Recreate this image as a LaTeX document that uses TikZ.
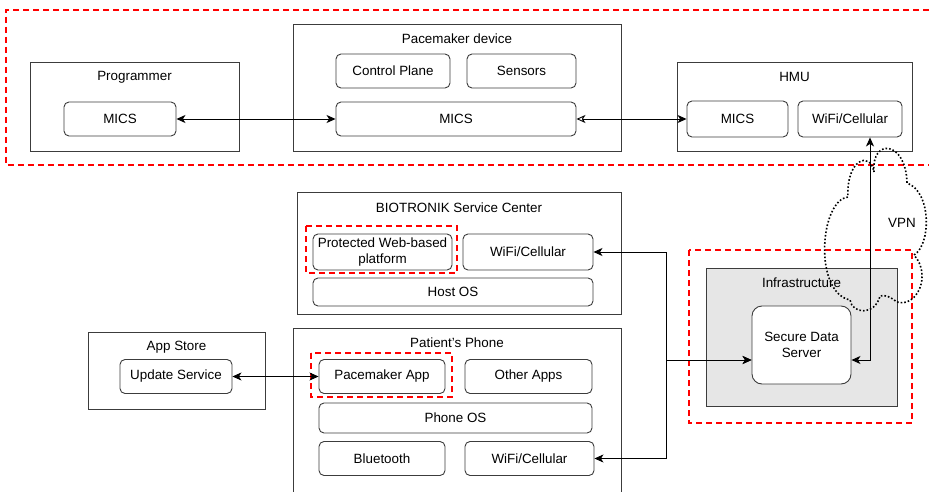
\documentclass[tikz,border=0pt]{standalone}
\usepackage{fontspec}
\setmainfont{Liberation Sans}
\usetikzlibrary{arrows.meta}
\definecolor{edge}{HTML}{3C3C3C}
\definecolor{infra}{HTML}{E6E6E6}
\tikzset{
  every node/.style={font=\fontsize{13.4}{15.5}\selectfont, inner sep=0pt},
  ibox/.style={draw=edge, line width=0.9pt, rounded corners=5pt, fill=white, align=center},
  cbox/.style={draw=edge, line width=0.9pt},
  reddash/.style={draw=red, line width=1.6pt, dash pattern=on 6pt off 4pt},
  conn/.style={draw=black, line width=0.9pt},
  tip/.tip={Stealth[length=9pt,width=8pt,inset=2.5pt]},
  otip/.tip={Stealth[length=9pt,width=8pt,inset=2.5pt,open]},
}
\begin{document}
\begin{tikzpicture}[x=1pt,y=-1pt]
\useasboundingbox (0,0) rectangle (929,492);

% top red dashed region
\draw[reddash] (929,10) -- (6,10) -- (6,165) -- (929,165);

% containers
\draw[cbox] (30,62) rectangle (239,151);
\node (tprog) at (134.5,77) {Programmer};
\draw[cbox] (293,24) rectangle (621,151);
\node (tpace) at (457,39) {Pacemaker device};
\draw[cbox] (677,62) rectangle (912,151);
\node (thmu) at (794.5,77) {HMU};
\draw[cbox] (297,192) rectangle (621,314);
\node (tbio) at (459,208) {BIOTRONIK Service Center};
\draw[cbox] (88,332) rectangle (265,409);
\node (tapp) at (176.5,347) {App Store};
\draw[cbox] (293,328) -- (293,493) (293,328) -- (621,328) -- (621,493);
\node (tphone) at (457,343) {Patient's Phone};
\draw[cbox, fill=infra] (706,268) rectangle (897,406);
\node (tinfra) at (801.5,283) {Infrastructure};

% inner boxes
\node[ibox, minimum width=112pt, minimum height=34pt] (progmics) at (120,119) {MICS};
\node[ibox, minimum width=114pt, minimum height=34pt] (ctrl) at (393,71) {Control Plane};
\node[ibox, minimum width=109pt, minimum height=34pt] (sens) at (521.5,71) {Sensors};
\node[ibox, minimum width=240pt, minimum height=34pt] (pmmics) at (456,119) {MICS};
\node[ibox, minimum width=101pt, minimum height=36pt] (hmics) at (737.5,119) {MICS};
\node[ibox, minimum width=104pt, minimum height=36pt] (hwifi) at (850,119) {WiFi/Cellular};
\node[ibox, minimum width=139pt, minimum height=36pt] (prot) at (382.5,252) {Protected Web-based\\platform};
\node[ibox, minimum width=130pt, minimum height=36pt] (bwifi) at (528,252) {WiFi/Cellular};
\node[ibox, minimum width=280pt, minimum height=28pt] (hostos) at (453,292) {Host OS};
\node[ibox, minimum width=112pt, minimum height=34pt] (upd) at (176,376.5) {Update Service};
\node[ibox, minimum width=126pt, minimum height=34pt] (papp) at (382,376.5) {Pacemaker App};
\node[ibox, minimum width=127pt, minimum height=34pt] (oapps) at (528.5,376.5) {Other Apps};
\node[ibox, minimum width=273pt, minimum height=30pt] (phoneos) at (455.5,418) {Phone OS};
\node[ibox, minimum width=126pt, minimum height=34pt] (bt) at (382,458.5) {Bluetooth};
\node[ibox, minimum width=129pt, minimum height=34pt] (pwifi) at (529.5,458.5) {WiFi/Cellular};
\node[ibox, rounded corners=10pt, minimum width=99pt, minimum height=78pt] (sds) at (801.5,345) {Secure Data\\Server};

% red dashed highlight boxes
\draw[reddash] (306,226) rectangle (457,273);
\draw[reddash] (311,353) rectangle (452,397);
\draw[reddash] (689,250) rectangle (912,423);

% VPN cloud
\draw[black, line width=1.6pt, dotted]
  (874,172) .. controls (871,138) and (906,140) .. (907,183)
  .. controls (932,192) and (931,245) .. (914,255)
  .. controls (932,275) and (917,308) .. (897,302)
  .. controls (892,298) and (885,294) .. (880,296)
  .. controls (875,316) and (852,314) .. (850,300)
  .. controls (813,292) and (820,200) .. (848,197)
  .. controls (846,160) and (870,150) .. (874,172) -- cycle;
\node (vpn) at (902,223) {VPN};

% connectors
\draw[conn, {tip}-{tip}] (progmics.east) -- (pmmics.west);
\draw[conn, {otip}-{tip}] (pmmics.east) -- (hmics.west);
\draw[conn, {tip}-{tip}] (upd.east) -- (papp.west);
\coordinate (jn) at (666,360);
\draw[conn, {tip}-{tip}] (bwifi.east) -| (jn) -- ([yshift=-15pt]sds.west);
\draw[conn, {tip}-{tip}] (pwifi.east) -| (jn) -- ([yshift=-15pt]sds.west);
\draw[conn, {tip}-{tip}] ([yshift=-15pt]sds.east) -| ([xshift=20pt]hwifi.south);
\end{tikzpicture}
\end{document}
